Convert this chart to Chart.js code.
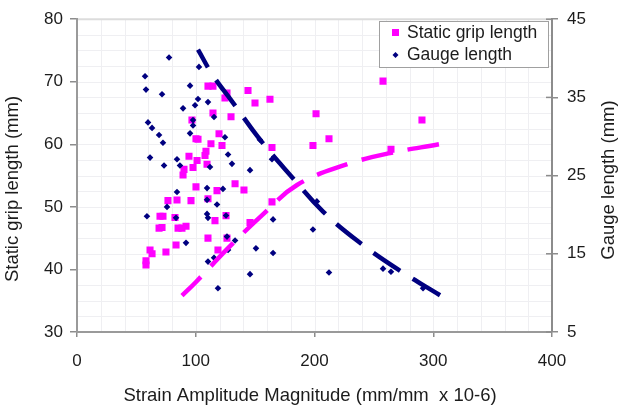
<!DOCTYPE html>
<html><head><meta charset="utf-8">
<script src="https://cdn.jsdelivr.net/npm/chart.js@4.4.1/dist/chart.umd.min.js"></script>
<style>html,body{margin:0;padding:0;background:#fff;overflow:hidden}canvas{display:block}</style>
</head><body>
<canvas id="c" width="619" height="412"></canvas>
<script>
// ---- data ----
const xTickValues = [0, 100, 200, 300, 400];
const leftTickValues = [30, 40, 50, 60, 70, 80];
const rightTickValues = [5, 15, 25, 35, 45];

const seriesNames = ["Static grip length", "Gauge length"];
const axisTitles = ["Strain Amplitude Magnitude (mm/mm  x 10-6)", "Static grip length (mm)", "Gauge length (mm)"];

// Static grip length (left axis, mm) vs strain amplitude
const gripX = [110.3,114.5,126.3,124.6,144,149.9,162.5,114.5,129.7,96.8,100.2,101.9,119.6,122.1,112.8,108.6,107.8,94.3,101.1,109.5,97.7,90.1,89.3,100.2,117.9,133.1,140.6,110.3,96,84.2,76.6,69.9,72.4,82.5,69.1,71.6,85.1,88.4,91.8,116.2,125.5,110.3,126.3,83.4,74.9,61.5,63.2,58.1,58.1,118.7,164.2,145.7,201.3,257.7,290.5,212.2,198.7,164.2,264.4];
const gripY = [69.3,69.3,68.2,67.4,68.6,66.6,67.2,65.0,64.4,63.9,60.9,60.8,61.7,59.8,60.1,58.9,58.2,58.1,57.4,56.8,56.3,56.0,55.1,53.2,52.6,53.7,52.7,51.3,51.0,51.1,51.0,48.5,48.5,48.3,46.6,46.7,46.6,46.6,46.9,47.8,48.6,45.0,45.0,43.9,42.8,43.1,42.5,41.4,40.7,43.1,50.8,47.5,64.9,70.1,63.9,60.9,59.8,59.5,59.2];

// Gauge length (right axis, mm) vs strain amplitude
const gaugeX = [77.5,102.7,57.3,58.1,71.6,95.2,101.9,99.4,89.3,110.3,115.4,97.7,97.7,59.8,63.2,69.1,72.4,95.2,124.6,127.2,61.5,73.3,84.2,86.7,112,130.5,145.7,164.2,84.2,109.5,122.9,109.5,117.9,75.8,58.9,83.4,109.5,110.3,125.5,165.1,91.8,126.3,133.1,150.7,165.1,127.2,115.4,110.3,145.7,118.7,198.7,212.2,257.7,264.4,291.4,202,154];
const gaugeY = [40.1,38.9,37.7,36.0,35.4,36.5,34.8,34.0,33.6,34.4,32.5,32.1,31.4,31.8,31.1,30.2,29.2,30.4,29.9,27.7,27.3,26.3,27.1,26.3,26.1,26.5,25.7,27.1,22.9,23.4,23.3,21.9,21.3,21.0,19.8,19.6,20.1,19.6,19.9,19.4,16.4,17.2,16.7,15.7,15.1,15.5,14.5,14.0,12.4,10.6,18.1,12.6,13.1,12.7,10.6,21.7,29.6];

// Trend lines
const gripTrendX = [88.4,100.2,127.2,156.6,185.3,225.7,263.6,304.8];
const gripTrendY = [35.8,38.0,43.4,48.8,53.5,56.7,58.6,60.0];
const gaugeTrendX = [101.9,114.5,130.5,154.1,181.1,207.2,237.5,270.3,305.7];
const gaugeTrendY = [41.1,37.8,34.5,29.6,24.8,20.4,16.5,13.0,9.7];

const PINK = '#ff00ff';
const NAVY = '#000080';
const TEXT = '#1c1c1c';
const FONT = "'Liberation Sans', Arial, sans-serif";

const pts = (xs, ys) => xs.map((x, i) => ({x, y: ys[i]}));

const extras = {
  id: 'extras',
  beforeDraw(chart) {
    const {ctx, chartArea: a, scales} = chart;
    ctx.save();
    ctx.fillStyle = '#fff';
    ctx.fillRect(0, 0, chart.width, chart.height);
    ctx.strokeStyle = '#efeff2';
    ctx.lineWidth = 1;
    for (let v = 20; v < 400; v += 20) {
      const px = Math.round(scales.x.getPixelForValue(v)) + 0.5;
      ctx.beginPath(); ctx.moveTo(px, a.top); ctx.lineTo(px, a.bottom); ctx.stroke();
    }
    for (let v = 32.5; v < 80; v += 2.5) {
      const py = Math.round(scales.y.getPixelForValue(v)) + 0.5;
      ctx.beginPath(); ctx.moveTo(a.left, py); ctx.lineTo(a.right, py); ctx.stroke();
    }
    // top border
    ctx.strokeStyle = '#dcdcdc';
    ctx.lineWidth = 2;
    ctx.beginPath(); ctx.moveTo(a.left, a.top); ctx.lineTo(a.right, a.top); ctx.stroke();
    ctx.restore();
  },
  afterDraw(chart) {
    const {ctx, chartArea: a, scales} = chart;
    ctx.save();
    // inner half of right-axis tick marks
    ctx.strokeStyle = '#8c8c8c';
    ctx.lineWidth = 1.5;
    rightTickValues.forEach(v => {
      const py = scales.y2.getPixelForValue(v);
      ctx.beginPath(); ctx.moveTo(a.right - 6, py); ctx.lineTo(a.right, py); ctx.stroke();
    });
    // legend box
    const lx = 379, ly = 21, lw = 169, lh = 46;
    ctx.fillStyle = '#fff';
    ctx.fillRect(lx, ly, lw, lh);
    ctx.strokeStyle = '#a0a0a0';
    ctx.lineWidth = 1;
    ctx.strokeRect(lx + 0.5, ly + 0.5, lw, lh);
    ctx.fillStyle = PINK;
    ctx.fillRect(392, 29, 7, 7);
    ctx.fillStyle = NAVY;
    ctx.beginPath();
    ctx.moveTo(395.5, 52); ctx.lineTo(398.5, 55); ctx.lineTo(395.5, 58); ctx.lineTo(392.5, 55); ctx.closePath(); ctx.fill();
    ctx.fillStyle = TEXT;
    ctx.font = "17.5px " + FONT;
    ctx.textBaseline = 'middle';
    ctx.textAlign = 'left';
    ctx.fillText(seriesNames[0], 407, 33);
    ctx.fillText(seriesNames[1], 407, 55);
    // axis titles
    ctx.font = "18.5px " + FONT;
    ctx.textAlign = 'center';
    ctx.fillText(axisTitles[0], 310, 396);
    ctx.save();
    ctx.translate(13, 189);
    ctx.rotate(-Math.PI / 2);
    ctx.fillText(axisTitles[1], 0, 0);
    ctx.restore();
    ctx.save();
    ctx.translate(609, 180);
    ctx.rotate(-Math.PI / 2);
    ctx.fillText(axisTitles[2], 0, 0);
    ctx.restore();
    ctx.restore();
  }
};

const tickFont = {family: FONT, size: 17};

new Chart(document.getElementById('c'), {
  type: 'scatter',
  data: {
    datasets: [
      {
        label: 'Gauge trend', data: pts(gaugeTrendX, gaugeTrendY).reverse(), yAxisID: 'y2',
        showLine: true, pointRadius: 0, borderColor: NAVY, borderWidth: 4.5,
        borderDash: [32, 15], borderCapStyle: 'butt', tension: 0.4, fill: false
      },
      {
        label: 'Grip trend', data: pts(gripTrendX, gripTrendY).reverse(), yAxisID: 'y',
        showLine: true, pointRadius: 0, borderColor: PINK, borderWidth: 4.5,
        borderDash: [32, 15], borderCapStyle: 'butt', tension: 0.4, fill: false
      },
      {
        label: seriesNames[1], data: pts(gaugeX, gaugeY), yAxisID: 'y2',
        pointStyle: 'rectRot', pointRadius: 3.3, backgroundColor: NAVY, borderWidth: 0
      },
      {
        label: seriesNames[0], data: pts(gripX, gripY), yAxisID: 'y',
        pointStyle: 'rect', pointRadius: 5, backgroundColor: PINK, borderWidth: 0
      }
    ]
  },
  options: {
    responsive: false, animation: false, devicePixelRatio: 1,
    layout: {padding: {top: 15, left: 0, right: 0, bottom: 0}},
    plugins: {legend: {display: false}, tooltip: {enabled: false}},
    scales: {
      x: {
        type: 'linear', position: 'bottom', min: 0, max: 400,
        afterBuildTicks: s => { s.ticks = xTickValues.map(v => ({value: v})); },
        afterFit: s => { s.height = 80; },
        grid: {drawOnChartArea: false, drawTicks: true, tickLength: 5, color: '#8c8c8c', lineWidth: 1.5},
        border: {display: true, color: '#9a9a9a', width: 2},
        ticks: {font: tickFont, color: TEXT, padding: 14, maxRotation: 0}
      },
      y: {
        type: 'linear', position: 'left', min: 30, max: 80,
        afterBuildTicks: s => { s.ticks = leftTickValues.map(v => ({value: v})); },
        afterFit: s => { s.width = 77; },
        grid: {drawOnChartArea: false, drawTicks: true, tickLength: 7, color: '#8c8c8c', lineWidth: 1.5},
        border: {display: true, color: '#9a9a9a', width: 2},
        ticks: {font: tickFont, color: TEXT, padding: 7}
      },
      y2: {
        type: 'linear', position: 'right', min: 5, max: 45,
        afterBuildTicks: s => { s.ticks = rightTickValues.map(v => ({value: v})); },
        afterFit: s => { s.width = 67; },
        grid: {drawOnChartArea: false, drawTicks: true, tickLength: 6, color: '#8c8c8c', lineWidth: 1.5},
        border: {display: true, color: '#8c8c8c', width: 2},
        ticks: {font: tickFont, color: TEXT, padding: 9}
      }
    }
  },
  plugins: [extras]
});
</script>
</body></html>
